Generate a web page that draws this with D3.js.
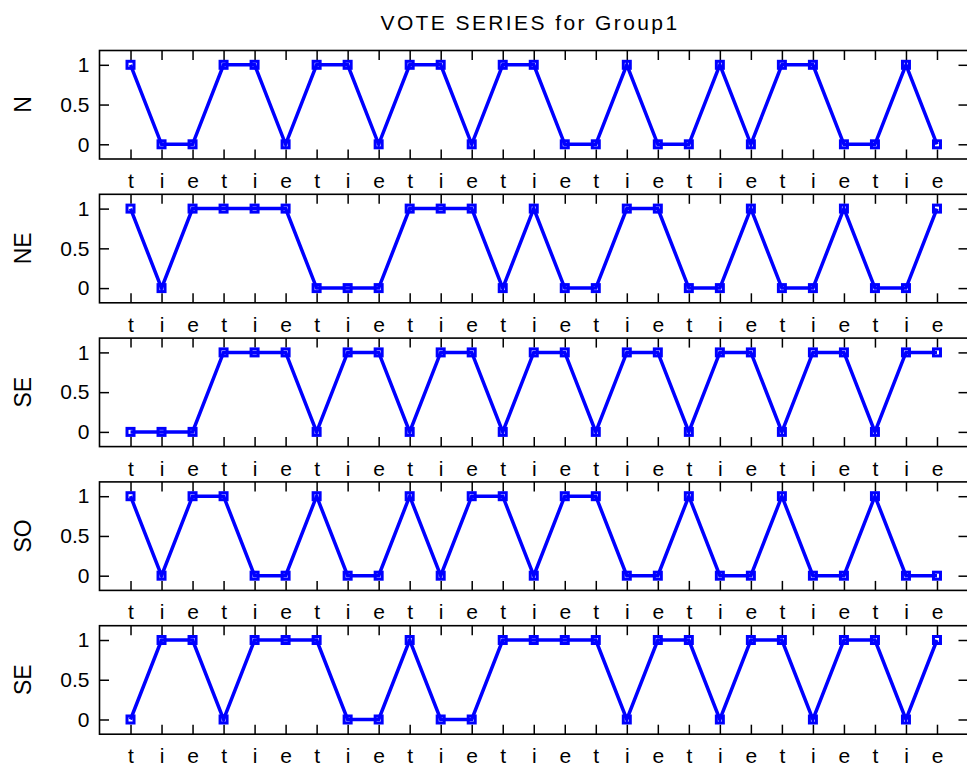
<!DOCTYPE html>
<html><head><meta charset="utf-8">
<script src="https://cdn.jsdelivr.net/npm/d3@7"></script>
<style>body{margin:0;background:#fff} svg{display:block} text{font-family:"Liberation Sans",Arial,sans-serif;fill:#000}</style>
</head><body><svg id="c" width="967" height="774"></svg>
<script>
const categories = ["t","i","e","t","i","e","t","i","e","t","i","e","t","i","e","t","i","e","t","i","e","t","i","e","t","i","e"];
const seriesNames = ["N","NE","SE","SO","SE"];
const seriesN  = [1,0,0,1,1,0,1,1,0,1,1,0,1,1,0,0,1,0,0,1,0,1,1,0,0,1,0];
const seriesNE = [1,0,1,1,1,1,0,0,0,1,1,1,0,1,0,0,1,1,0,0,1,0,0,1,0,0,1];
const seriesSE1= [0,0,0,1,1,1,0,1,1,0,1,1,0,1,1,0,1,1,0,1,1,0,1,1,0,1,1];
const seriesSO = [1,0,1,1,0,0,1,0,0,1,0,1,1,0,1,1,0,0,1,0,0,1,0,0,1,0,0];
const seriesSE2= [0,1,1,0,1,1,1,0,0,1,0,0,1,1,1,1,0,1,1,0,1,1,0,1,1,0,1];
const yTicks = [0, 0.5, 1];
const yTickLabels = ["0","0.5","1"];
const titleText = "VOTE SERIES for Group1";

const allSeries = [seriesN, seriesNE, seriesSE1, seriesSO, seriesSE2];
const svg = d3.select("#c");
const left = 99.5, right = 968, firstTop = 50.5, step = 143.8, h = 108.5;
const x = d3.scaleLinear().domain([0, categories.length + 1]).range([left, right]);
const tickLen = 9.5;

svg.append("text").attr("x", 530).attr("y", 30).attr("text-anchor","middle")
  .style("font-size","21px").style("letter-spacing","2.4px").text(titleText);

allSeries.forEach((vals, k) => {
  const top = firstTop + k*step;
  const y = d3.scaleLinear().domain([-0.185, 1.18]).range([top + h, top]);
  const g = svg.append("g");
  const idx = d3.range(1, categories.length + 1);

  const bx = g.append("g").attr("transform", `translate(0,${top+h})`)
    .call(d3.axisBottom(x).tickValues(idx).tickFormat(i => categories[i-1]).tickSizeInner(-tickLen).tickSizeOuter(0).tickPadding(14));
  const tx = g.append("g").attr("transform", `translate(0,${top})`)
    .call(d3.axisTop(x).tickValues(idx).tickFormat("").tickSizeInner(-tickLen).tickSizeOuter(0));
  const ly = g.append("g").attr("transform", `translate(${left},0)`)
    .call(d3.axisLeft(y).tickValues(yTicks).tickFormat((d,i) => yTickLabels[i]).tickSizeInner(-tickLen).tickSizeOuter(0).tickPadding(10));
  const ry = g.append("g").attr("transform", `translate(${right},0)`)
    .call(d3.axisRight(y).tickValues(yTicks).tickFormat("").tickSizeInner(-tickLen).tickSizeOuter(0));
  [bx,tx,ly,ry].forEach(a => {
    a.select(".domain").remove();
    a.selectAll(".tick line").attr("stroke","#000").attr("stroke-width",1.5);
    a.selectAll("text").style("font-size","21px").attr("fill","#000");
  });

  g.append("rect").attr("x", left).attr("y", top).attr("width", right-left).attr("height", h)
    .attr("fill","none").attr("stroke","#000").attr("stroke-width",1.6);

  const line = d3.line().x((d,i) => x(i+1)).y(d => y(d));
  g.append("path").datum(vals).attr("d", line).attr("fill","none")
    .attr("stroke","#0000ff").attr("stroke-width",3.5).attr("stroke-linejoin","miter");
  const ms = 7;
  g.selectAll("rect.m").data(vals).join("rect").attr("class","m")
    .attr("x",(d,i)=>x(i+1)-ms/2).attr("y",d=>y(d)-ms/2).attr("width",ms).attr("height",ms)
    .attr("fill","none").attr("stroke","#0000ff").attr("stroke-width",3);

  svg.append("text").attr("transform", `translate(23,${y(0.5)}) rotate(-90)`)
    .attr("text-anchor","middle").attr("dominant-baseline","central")
    .style("font-size","23px").text(seriesNames[k]);
});
</script></body></html>
